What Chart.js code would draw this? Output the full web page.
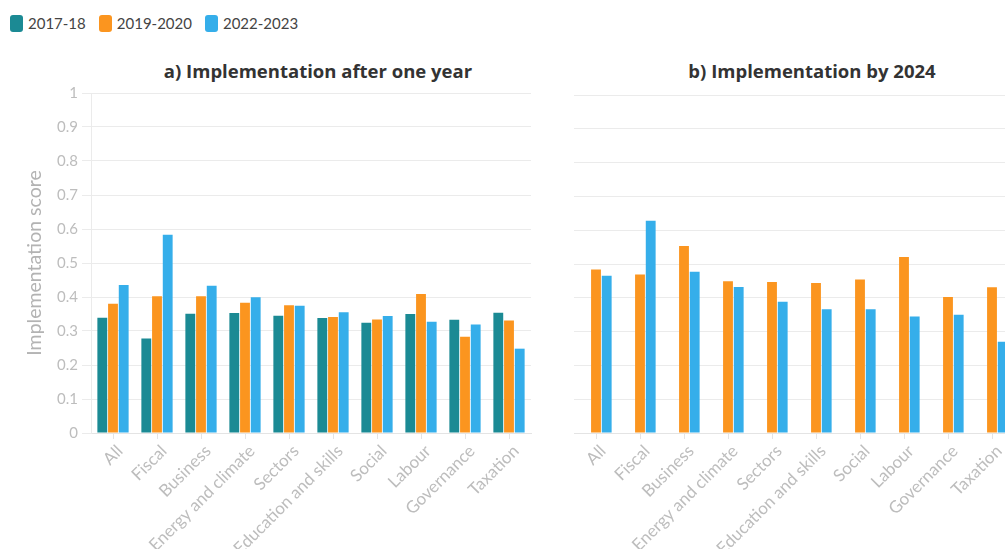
<!DOCTYPE html>
<html>
<head>
<meta charset="utf-8">
<script src="https://cdn.jsdelivr.net/npm/chart.js@4"></script>
<style>
  html, body { margin: 0; padding: 0; background: #fff; overflow: hidden; width: 1005px; height: 549px; }
  body { position: relative; font-family: Lato, "Open Sans", sans-serif; }
  .legend { position: absolute; left: 10px; top: 14px; display: flex; font-size: 15px; color: #444; }
  .legend .item { display: flex; align-items: center; margin-right: 13px; }
  .legend .swatch { width: 13px; height: 17px; border-radius: 3px; margin-right: 5px; }
  .title { position: absolute; top: 58px; font-family: "Open Sans", Lato, sans-serif; font-weight: bold; font-size: 18.5px; color: #333; transform: translateX(-50%); white-space: nowrap; }
  canvas { position: absolute; }
</style>
</head>
<body>
<div class="legend" id="legend"></div>
<div class="title" style="left:318px">a) Implementation after one year</div>
<div class="title" style="left:812px">b) Implementation by 2024</div>
<canvas id="chartA" width="545" height="469" style="left:0;top:80px"></canvas>
<canvas id="chartB" width="468" height="469" style="left:560px;top:80px"></canvas>
<script>
// categories and series
const categories = ["All", "Fiscal", "Business", "Energy and climate", "Sectors",
  "Education and skills", "Social", "Labour", "Governance", "Taxation"];
const seriesNames = ["2017-18", "2019-2020", "2022-2023"];
const yTickLabels = ["0", "0.1", "0.2", "0.3", "0.4", "0.5", "0.6", "0.7", "0.8", "0.9", "1"];

// a) after one year
const oneYear2017 = [0.339, 0.278, 0.351, 0.353, 0.345, 0.338, 0.324, 0.350, 0.333, 0.354];
const oneYear2019 = [0.380, 0.402, 0.402, 0.383, 0.376, 0.341, 0.334, 0.409, 0.283, 0.331];
const oneYear2022 = [0.435, 0.583, 0.433, 0.399, 0.374, 0.355, 0.344, 0.327, 0.319, 0.248];

// b) by 2024 (no 2017-18 data)
const by2024_2017 = [null, null, null, null, null, null, null, null, null, null];
const by2024_2019 = [0.484, 0.469, 0.553, 0.449, 0.447, 0.444, 0.454, 0.521, 0.402, 0.431];
const by2024_2022 = [0.465, 0.628, 0.477, 0.432, 0.388, 0.366, 0.366, 0.345, 0.350, 0.270];

const COLORS = ["#1b8a94", "#fb951f", "#35aeea"];
const GRID = "#ebebeb";
const TICK = "#bdbdbd";
const FONT = "Lato, 'Open Sans', sans-serif";

// legend
const legendEl = document.getElementById("legend");
seriesNames.forEach((name, i) => {
  const item = document.createElement("div");
  item.className = "item";
  item.innerHTML = `<span class="swatch" style="background:${COLORS[i]}"></span>${name}`;
  legendEl.appendChild(item);
});

function makeDatasets(values) {
  return values.map((data, i) => ({
    label: seriesNames[i],
    data,
    backgroundColor: COLORS[i],
    categoryPercentage: 0.73,
    barPercentage: 0.92,
    borderWidth: 0,
  }));
}

function barChart(canvas, values, withAxis) {
  return new Chart(canvas, {
    type: "bar",
    data: { labels: categories, datasets: makeDatasets(values) },
    options: {
      responsive: false,
      animation: false,
      devicePixelRatio: 1,
      layout: { padding: { top: withAxis ? 13 : 15, right: 14, left: 0, bottom: 0 } },
      plugins: { legend: { display: false }, tooltip: { enabled: false } },
      scales: {
        x: {
          grid: { drawOnChartArea: false, offset: false, color: "#e4e4e4", tickLength: 6 },
          border: { color: "#e4e4e4" },
          ticks: {
            color: TICK, font: { family: FONT, size: 17 },
            autoSkip: false, minRotation: 45, maxRotation: 45, padding: 2, labelOffset: 7,
          },
          afterFit: (scale) => { scale.height = 116; },
        },
        y: {
          min: 0, max: 1,
          grid: { color: GRID, drawTicks: withAxis, tickLength: 9 },
          border: { display: withAxis, color: GRID },
          ticks: {
            display: withAxis, stepSize: 0.1, padding: 4,
            color: TICK, font: { family: FONT, size: 15 },
            callback: (v, i) => yTickLabels[i],
          },
          title: {
            display: withAxis, text: "Implementation score",
            color: "#b3b3b3", font: { family: FONT, size: 19.5 },
            padding: { top: 23, bottom: 0 },
          },
          afterFit: (scale) => { scale.width = withAxis ? 91 : 14; },
        },
      },
    },
  });
}

barChart(document.getElementById("chartA"), [oneYear2017, oneYear2019, oneYear2022], true);
barChart(document.getElementById("chartB"), [by2024_2017, by2024_2019, by2024_2022], false);
</script>
</body>
</html>
